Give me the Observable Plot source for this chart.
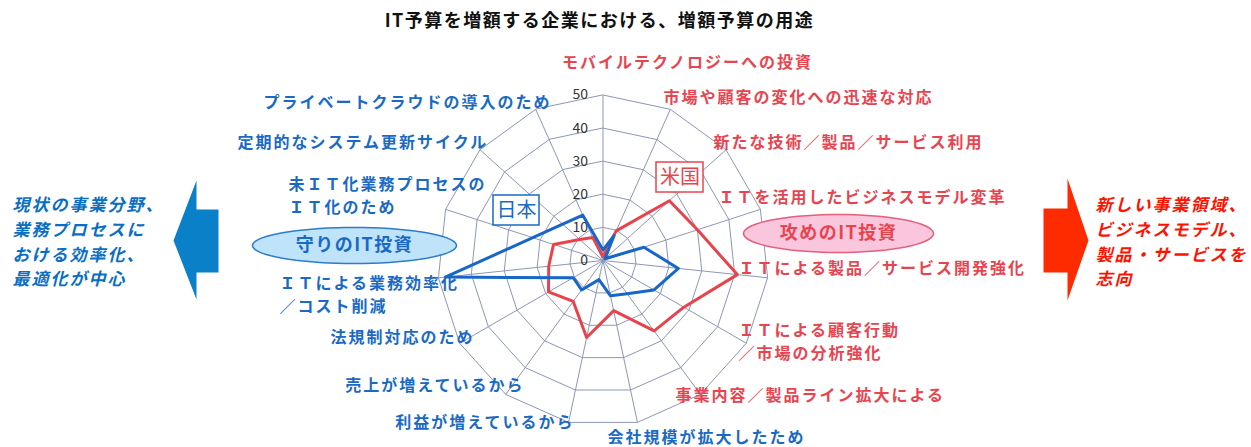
<!DOCTYPE html>
<html><head><meta charset="utf-8">
<script src="https://cdn.jsdelivr.net/npm/d3@7"></script>
<script src="https://cdn.jsdelivr.net/npm/@observablehq/plot@0.6"></script>
<style>
html,body{margin:0;padding:0;background:#fff;}
#chart svg{display:block;overflow:visible}
g[font-size="16"] text{letter-spacing:2px}
g[font-size="18"] text{letter-spacing:1.5px}
g[font-size="17"] text{letter-spacing:2px}
</style></head><body><div id="chart"></div><script>
// ---------- data ----------
const title = "IT予算を増額する企業における、増額予算の用途";
const categories = [
  "モバイルテクノロジーへの投資",
  "市場や顧客の変化への迅速な対応",
  "新たな技術／製品／サービス利用",
  "ＩＴを活用したビジネスモデル変革",
  "ＩＴによる製品／サービス開発強化",
  "ＩＴによる顧客行動\n／市場の分析強化",
  "事業内容／製品ライン拡大による",
  "会社規模が拡大したため",
  "利益が増えているから",
  "売上が増えているから",
  "法規制対応のため",
  "ＩＴによる業務効率化\n／コスト削減",
  "未ＩＴ化業務プロセスの\nＩＴ化のため",
  "定期的なシステム更新サイクル",
  "プライベートクラウドの導入のため"
];
const usValues = [1.2, 9.8, 27, 30, 40.8, 28.2, 26.3, 15.5, 23.8, 15.3, 19, 16.5, 15.7, 9.5, 7.6];
const jpValues = [3.2, 8.2, 0.8, 13, 22.9, 17.8, 12.4, 10.9, 5.9, 11, 10.4, 47.9, 22.3, 16.4, 15];
const seriesNames = ["米国", "日本"];
const tickValues = [0, 10, 20, 30, 40, 50];
const groupNames = ["守りのIT投資", "攻めのIT投資"];
const leftNote = "現状の事業分野、\n業務プロセスに\nおける効率化、\n最適化が中心";
const rightNote = "新しい事業領域、\nビジネスモデル、\n製品・サービスを\n志向";

// ---------- layout ----------
const W = 1251, H = 447, CX = 602.5, CY = 260, R = 165.5, MAX = 50;
const toX = px => (px - CX) / R * MAX;
const toY = py => (CY - py) / R * MAX;
const n = categories.length;
const ang = i => i * 2 * Math.PI / n;
const RED = "#e8444f", BLUE = "#1a6ac4", GRID = "#8d96b6";
const LINE_GAP = 23.5;
const labelColor = i => (i <= 6 ? RED : BLUE);
// [px, py, anchor] for each category label
const labelLayout = [
  [687, 62, "middle"], [663, 97, "start"], [713, 142, "start"], [718, 197, "start"],
  [738, 268, "start"], [738, 342, "start"], [675, 395, "start"], [607, 437, "start"],
  [574, 422, "end"], [524, 385, "end"], [474, 337, "end"], [279, 295, "start"],
  [288, 196, "start"], [237, 142, "start"], [263, 102, "start"]
];
const ellipseLayout = [
  {cx: 354, cy: 245, rx: 102, ry: 18, fill: "#bfe3f8", stroke: "#2b7ccc", text: BLUE},
  {cx: 838, cy: 233, rx: 95, ry: 19, fill: "#f9c6dd", stroke: "#e35f7a", text: RED}
];
const boxLayout = [
  {x1: 656, x2: 703, y1: 162, y2: 192, color: RED},
  {x1: 493, x2: 539, y1: 195, y2: 225, color: BLUE}
];
const leftArrow = [[173,240],[196,180],[196,209],[218,209],[218,272],[196,272],[196,299]];
const rightArrow = [[1088,240],[1067,178],[1067,208],[1043,208],[1043,272],[1067,272],[1067,300]];

// ---------- derived tables ----------
const ringData = [];
for (const r of tickValues.slice(1)) for (let i = 0; i < n; i++)
  ringData.push({r, x: r * Math.sin(ang(i)), y: r * Math.cos(ang(i))});
const seriesRows = [];
[usValues, jpValues].forEach((vals, s) => vals.forEach((v, i) =>
  seriesRows.push({series: seriesNames[s], i, value: v})));
const ellPts = ellipseLayout.map((e, k) => d3.range(72).map(t => {
  const a = t / 72 * 2 * Math.PI;
  return {x: toX(e.cx + e.rx * Math.cos(a)), y: toY(e.cy + e.ry * Math.sin(a))};
}));
const arrowPts = a => a.map(([px, py]) => ({x: toX(px), y: toY(py)}));
const labelLines = [];
categories.forEach((c, i) => {
  const parts = c.split("\n");
  const [px, py, anchor] = labelLayout[i];
  parts.forEach((t, j) => labelLines.push({
    text: t, i, anchor, x: toX(px), y: toY(py + (j - (parts.length - 1) / 2) * LINE_GAP)
  }));
});
const FONT = "'Noto Sans CJK JP', 'Noto Sans', sans-serif";

const marks = [
  Plot.line(arrowPts(leftArrow), {x: "x", y: "y", curve: "linear-closed", fill: "#0a80c8", stroke: "none"}),
  Plot.line(arrowPts(rightArrow), {x: "x", y: "y", curve: "linear-closed", fill: "#ff2b00", stroke: "none"}),
  Plot.line(ringData, {x: "x", y: "y", z: "r", curve: "linear-closed", stroke: GRID, strokeWidth: 1}),
  Plot.link(categories, {x1: 0, y1: 0, x2: (d, i) => MAX * Math.sin(ang(i)), y2: (d, i) => MAX * Math.cos(ang(i)), stroke: GRID, strokeWidth: 1}),
  ...ellipseLayout.map((e, k) => Plot.line(ellPts[k], {x: "x", y: "y", curve: "linear-closed", fill: e.fill, stroke: e.stroke, strokeWidth: 1.5})),
  ...ellipseLayout.map((e, k) => Plot.text([groupNames[k]], {x: toX(e.cx), y: toY(e.cy), text: d => d, fill: e.text, fontSize: 18, fontWeight: "bold"})),
  Plot.text(tickValues, {x: 0, y: d => d, text: d => String(d), textAnchor: "end", dx: -15, fill: "#333", fontSize: 14}),
  Plot.line(seriesRows.filter(d => d.series === "米国"), {x: d => d.value * Math.sin(ang(d.i)), y: d => d.value * Math.cos(ang(d.i)), curve: "linear-closed", stroke: "#e8434b", strokeWidth: 3}),
  Plot.line(seriesRows.filter(d => d.series === "日本"), {x: d => d.value * Math.sin(ang(d.i)), y: d => d.value * Math.cos(ang(d.i)), curve: "linear-closed", stroke: "#1767c8", strokeWidth: 3}),
  ...boxLayout.map((b, k) => Plot.rect([b], {x1: toX(b.x1), x2: toX(b.x2), y1: toY(b.y1), y2: toY(b.y2), fill: "white", stroke: b.color, strokeWidth: 1.5})),
  ...boxLayout.map((b, k) => Plot.text([seriesNames[k]], {x: toX((b.x1 + b.x2) / 2), y: toY((b.y1 + b.y2) / 2), text: d => d, fill: b.color, fontSize: 20})),
  ...["start", "middle", "end"].map(anc => Plot.text(labelLines.filter(d => d.anchor === anc), {
    x: "x", y: "y", text: "text", textAnchor: anc, fill: d => labelColor(d.i), fontSize: 16, fontWeight: "bold"
  })),
  Plot.text([title], {x: toX(599), y: toY(21), text: d => d, fontSize: 18, fontWeight: "bold", fill: "#111"}),
  Plot.text([leftNote], {x: toX(12), y: toY(240), text: d => d, textAnchor: "start", fontSize: 17, fontWeight: "bold", fontStyle: "italic", fill: "#0a6fc2", lineHeight: 1.45}),
  Plot.text([rightNote], {x: toX(1095), y: toY(240), text: d => d, textAnchor: "start", fontSize: 17, fontWeight: "bold", fontStyle: "italic", fill: "#ff1200", lineHeight: 1.45})
];

const chart = Plot.plot({
  width: W, height: H, margin: 0,
  x: {domain: [-MAX, MAX], range: [CX - R, CX + R]},
  y: {domain: [-MAX, MAX], range: [CY + R, CY - R]},
  axis: null,
  style: {fontFamily: FONT, background: "white", overflow: "visible"},
  marks
});
document.getElementById("chart").appendChild(chart);
</script></body></html>
